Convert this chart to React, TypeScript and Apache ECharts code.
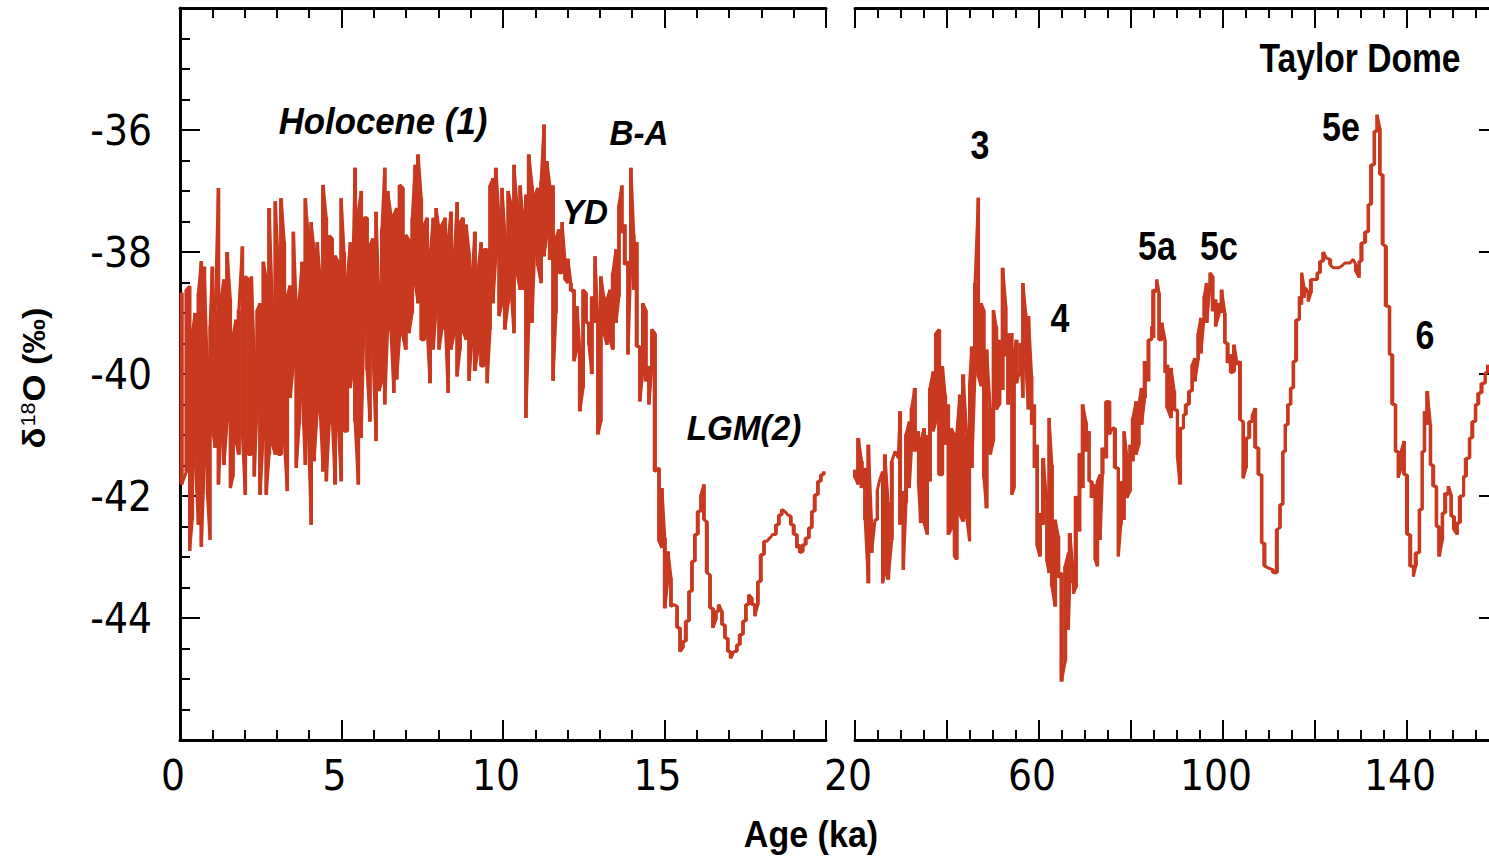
import React, { useEffect, useRef } from "react";
import * as echarts from "echarts";

// ---------- Data (ages in ka, δ18O in ‰; each column: high / low envelope) ----------
const holoceneAges = [0.05,0.2,0.3,0.38,0.47,0.57,0.66,0.75,0.85,0.93,1.0,1.09,1.19,1.28,1.36,1.46,1.56,1.64,1.73,1.82,1.93,2.02,2.11,2.21,2.3,2.39,2.48,2.58,2.67,2.76,2.86,2.95,3.04,3.13,3.23,3.32,3.41,3.51,3.6,3.69,3.78,3.88,3.97,4.06,4.15,4.25,4.34,4.43,4.53,4.62,4.71,4.8,4.9,4.99,5.08,5.18,5.27,5.34,5.42,5.52,5.61,5.7,5.79,5.88,5.97,6.07,6.16,6.25,6.34,6.43,6.53,6.62,6.71,6.8,6.9,6.99];
const holoceneHigh = [-38.67,-38.62,-38.56,-39.33,-39.0,-38.67,-38.15,-38.24,-40.0,-39.22,-38.24,-38.95,-36.95,-38.73,-38.45,-38.0,-38.78,-39.38,-39.11,-38.95,-37.91,-38.4,-38.44,-38.4,-39.71,-38.95,-38.84,-38.16,-38.44,-37.28,-38.86,-37.17,-38.16,-37.12,-37.84,-38.72,-38.55,-37.67,-38.89,-38.78,-38.16,-37.12,-37.73,-37.51,-37.95,-37.84,-38.44,-36.9,-37.44,-37.73,-37.78,-38.06,-38.16,-37.12,-38.0,-38.44,-37.84,-38.55,-36.62,-37.34,-37.0,-37.44,-37.44,-37.89,-37.78,-37.34,-38.78,-37.62,-36.62,-37.0,-37.39,-37.39,-37.28,-36.9,-36.95,-37.72];
const holoceneLow = [-41.81,-41.6,-42.9,-42.39,-41.43,-42.47,-42.83,-41.54,-41.98,-42.72,-40.89,-41.21,-41.81,-40.83,-41.49,-40.78,-41.87,-41.68,-41.1,-41.32,-40.99,-41.98,-41.32,-41.32,-41.68,-40.5,-41.98,-40.99,-41.98,-41.32,-41.16,-41.32,-41.32,-41.32,-41.1,-41.92,-40.39,-39.87,-41.54,-40.83,-40.28,-41.49,-40.89,-42.47,-41.43,-40.61,-40.61,-41.6,-41.76,-40.83,-40.67,-41.81,-40.83,-41.76,-40.94,-40.94,-40.23,-39.96,-40.78,-41.81,-41.05,-39.14,-39.93,-40.78,-39.6,-41.1,-40.28,-40.12,-40.5,-39.25,-39.3,-40.31,-40.09,-39.38,-39.38,-39.6];

const lateAges = [7.09,7.19,7.28,7.37,7.47,7.56,7.65,7.74,7.84,7.93,8.02,8.11,8.21,8.3,8.39,8.49,8.58,8.67,8.76,8.86,8.95,9.04,9.13,9.23,9.32,9.41,9.51,9.6,9.69,9.78,9.88,9.97,10.06,10.16,10.25,10.34,10.43,10.53,10.62,10.71,10.8,10.9,10.99,11.08,11.18,11.27,11.36,11.45,11.55,11.64,11.73,11.83,11.92,12.01,12.1,12.2,12.29,12.38,12.48,12.57,12.66,12.75,12.85,12.94,13.03,13.12,13.22,13.31,13.4,13.5,13.59,13.68,13.77,13.87,13.96,14.05,14.14,14.24,14.33,14.42,14.52,14.61,14.7];
const lateHigh = [-37.8,-37.44,-36.57,-36.4,-37.11,-37.55,-37.44,-38.07,-37.44,-37.28,-37.63,-37.55,-37.44,-37.8,-37.34,-38.07,-37.18,-37.51,-37.44,-37.55,-38.0,-38.4,-37.67,-38.29,-37.84,-37.96,-37.96,-36.91,-36.79,-36.62,-37.44,-36.95,-37.72,-37.0,-37.22,-36.57,-37.22,-36.91,-37.44,-37.06,-36.4,-36.91,-37.06,-36.95,-36.84,-35.91,-36.51,-36.91,-36.91,-37.77,-37.63,-37.51,-38.15,-38.11,-38.51,-38.62,-38.89,-39.6,-38.62,-38.67,-39.16,-38.73,-38.07,-39.16,-38.4,-38.73,-38.78,-38.62,-38.34,-37.96,-37.23,-36.91,-37.55,-38.15,-36.62,-37.72,-37.84,-39.55,-38.84,-38.95,-39.87,-39.27,-39.33];
const lateLow = [-39.33,-39.0,-38.51,-38.84,-39.44,-39.44,-39.25,-40.15,-39.6,-38.95,-39.6,-39.27,-39.11,-40.31,-39.6,-39.33,-40.04,-39.6,-39.3,-39.44,-40.11,-39.44,-39.95,-39.6,-39.87,-39.87,-40.15,-39.27,-38.84,-38.07,-39.05,-38.84,-39.27,-38.84,-38.64,-39.33,-38.34,-38.62,-38.62,-40.72,-39.16,-39.16,-37.82,-38.23,-38.51,-38.07,-37.72,-38.13,-40.11,-39.0,-38.34,-38.34,-38.45,-38.51,-38.64,-39.79,-39.6,-40.61,-40.23,-39.16,-39.52,-40.0,-39.16,-40.99,-40.78,-39.33,-39.52,-39.44,-39.6,-39.16,-38.73,-37.69,-38.21,-39.68,-38.15,-38.62,-39.55,-40.45,-39.95,-40.12,-40.5,-39.87,-41.6];

const lgmAges = [14.83,14.92,15.01,15.11,15.2,15.29,15.39,15.48,15.57,15.66,15.76,15.85,15.94,16.03,16.13,16.22,16.31,16.41,16.5,16.59,16.68,16.78,16.87,16.96,17.05,17.15,17.24,17.33,17.43,17.52,17.61,17.7,17.8,17.89,17.98,18.08,18.17,18.26,18.35,18.45,18.54,18.63,18.72,18.82,18.91,19.0,19.1,19.19,19.28,19.37,19.47,19.56,19.65,19.75,19.84,19.93];
const lgmHigh = [-41.54,-41.87,-42.69,-42.91,-43.34,-43.78,-43.81,-44.16,-44.38,-44.05,-43.56,-43.07,-42.63,-42.25,-41.98,-41.81,-42.42,-43.29,-43.84,-43.89,-43.78,-43.89,-44.11,-44.33,-44.55,-44.55,-44.44,-44.27,-44.05,-43.78,-43.62,-43.67,-43.78,-43.4,-42.96,-42.74,-42.74,-42.69,-42.63,-42.47,-42.31,-42.22,-42.25,-42.31,-42.33,-42.47,-42.63,-42.8,-42.8,-42.69,-42.52,-42.25,-41.98,-41.76,-41.65,-41.6];
const lgmLow = [-42.74,-42.85,-43.84,-43.34,-43.81,-43.78,-44.16,-44.55,-44.49,-44.38,-44.05,-43.56,-43.07,-42.63,-42.25,-42.39,-43.26,-43.84,-44.16,-44.03,-43.89,-44.11,-44.33,-44.55,-44.66,-44.55,-44.55,-44.44,-44.27,-44.05,-43.78,-43.78,-43.97,-43.78,-43.4,-42.96,-42.74,-42.69,-42.63,-42.63,-42.47,-42.31,-42.25,-42.31,-42.47,-42.63,-42.85,-42.93,-42.91,-42.8,-42.69,-42.52,-42.25,-41.98,-41.76,-41.65];

const stage3Ages = [20.0,20.7,21.45,22.2,22.9,23.6,24.35,24.86,25.4,26.0,26.5,27.2,28.0,28.7,29.4,29.8,30.5,31.1,31.8,32.3,33.0,33.8,34.3,35.0,35.7,36.3,37.0,37.6,38.3,39.0,39.6,40.3,40.9,41.6,42.1,42.8,43.5,44.3,44.9,45.4,46.1,46.8,47.4,48.0,48.6,49.4,50.1,50.7,51.4,52.1,52.8,53.3,54.1,54.6,55.1,55.9,56.5,57.1,57.7,58.4,59.0,59.6,60.2,60.9,61.7,62.2,62.8,63.5,64.2,64.9,65.7,66.4,66.7];
const stage3High = [-41.57,-41.05,-41.43,-41.54,-41.16,-42.44,-42.39,-41.9,-41.73,-41.6,-41.32,-42.11,-41.43,-41.27,-41.38,-40.61,-41.92,-40.99,-40.78,-40.56,-40.23,-40.94,-41.1,-40.89,-41.0,-40.23,-39.96,-39.33,-39.27,-39.87,-40.34,-40.5,-40.89,-41.0,-41.0,-40.34,-40.01,-41.0,-40.17,-39.55,-38.51,-37.11,-38.84,-38.95,-39.6,-40.56,-38.95,-39.22,-39.44,-38.26,-38.89,-39.33,-39.33,-39.68,-39.44,-39.49,-38.51,-39.0,-39.05,-40.04,-40.5,-41.16,-42.28,-41.38,-42.11,-40.72,-41.49,-42.39,-42.66,-43.26,-43.15,-42.93,-42.61];
const stage3Low = [-41.7,-41.81,-41.87,-42.39,-43.43,-42.93,-42.39,-42.39,-41.73,-43.43,-43.26,-43.37,-42.72,-41.27,-41.38,-42.47,-43.21,-42.11,-41.87,-41.21,-41.27,-41.81,-42.44,-42.44,-42.63,-41.76,-40.94,-40.78,-41.65,-41.65,-41.16,-42.63,-42.55,-42.99,-43.04,-42.31,-42.42,-42.36,-42.74,-41.54,-39.98,-40.04,-40.2,-41.7,-42.2,-41.32,-41.1,-40.58,-40.5,-40.26,-39.71,-40.5,-41.98,-41.87,-40.15,-39.93,-40.39,-39.82,-40.58,-40.83,-41.54,-42.82,-42.99,-42.47,-43.07,-43.26,-43.48,-43.81,-43.34,-45.04,-44.71,-44.19,-43.43];

const stage5Ages = [67.5,68.0,68.8,69.5,70.2,70.9,71.45,72.2,72.7,73.3,73.8,74.6,75.3,76.0,76.5,77.25,77.8,78.5,79.06,79.8,80.4,81.1,81.7,82.3,83.0,83.8,84.5,84.85,85.6,86.1,86.7,87.4,87.9,88.7,89.4,90.1,90.65,91.4,91.9,92.6,93.3,93.9,94.6,95.2,95.9,96.45,97.2,97.75,98.4,99.0,99.7,100.4,101.0,101.7,102.4,103.1,103.7,104.4,105.0,105.7,106.4,107.0,107.7,108.4,109.0,109.85,110.9,111.7];
const stage5High = [-43.29,-42.0,-41.3,-40.5,-40.78,-40.94,-41.76,-41.81,-41.76,-41.65,-41.21,-40.45,-40.45,-40.89,-40.89,-41.54,-41.76,-40.94,-41.32,-41.16,-40.72,-40.45,-40.5,-40.23,-39.79,-39.44,-39.22,-38.62,-38.45,-38.67,-39.16,-39.44,-39.85,-39.9,-40.28,-40.59,-40.89,-40.67,-40.5,-40.28,-39.85,-39.74,-39.33,-39.08,-38.73,-38.51,-38.34,-38.4,-38.78,-38.84,-38.62,-39.0,-39.49,-39.68,-39.52,-39.85,-39.79,-40.78,-41.05,-40.78,-40.67,-40.56,-41.21,-41.65,-42.77,-43.18,-43.21,-42.55];
const stage5Low = [-43.6,-43.5,-42.58,-41.87,-41.27,-41.76,-42.03,-43.04,-43.15,-42.72,-41.65,-41.38,-40.99,-40.89,-41.54,-42.99,-42.47,-42.39,-42.03,-41.92,-41.43,-41.32,-41.16,-40.83,-40.39,-40.12,-39.44,-39.41,-38.65,-39.44,-39.44,-39.98,-40.56,-40.72,-40.59,-41.38,-41.81,-40.89,-40.67,-40.5,-40.28,-40.12,-39.77,-39.66,-39.06,-39.16,-38.54,-38.97,-39.22,-39.06,-39.0,-39.49,-39.82,-39.98,-39.96,-39.85,-40.75,-41.71,-41.54,-41.05,-40.78,-41.21,-41.65,-42.77,-43.15,-43.18,-43.26,-43.26];

const stage6Ages = [112.4,113.0,113.55,114.1,114.7,115.3,115.9,116.6,117.1,117.6,118.0,118.55,119.1,119.8,120.5,121.1,121.8,122.5,123.3,124.0,125.1,125.8,126.5,127.6,128.3,128.9,129.6,130.1,130.9,131.6,132.2,132.9,133.5,134.1,134.7,135.4,136.2,136.8,137.5,138.1,138.6,139.35,140.0,140.7,141.4,141.9,142.7,143.3,143.8,144.4,145.1,145.7,146.4,147.0,147.7,148.3,149.0,149.6,150.2,150.9,151.5,152.3,152.8,153.6,154.2,154.9,155.5,156.2,157.0,157.5];
const stage6High = [-42.14,-41.27,-40.83,-40.5,-40.23,-39.79,-39.11,-38.73,-38.34,-38.56,-38.59,-38.67,-38.45,-38.45,-38.34,-38.15,-38.0,-38.1,-38.12,-38.26,-38.26,-38.23,-38.18,-38.18,-38.12,-38.21,-38.15,-37.85,-37.67,-37.22,-36.57,-36.02,-35.75,-35.97,-36.73,-37.9,-38.89,-39.68,-40.5,-41.27,-41.3,-41.1,-41.65,-42.63,-43.15,-42.93,-42.22,-41.27,-40.61,-40.28,-40.83,-41.49,-41.84,-42.5,-42.28,-41.95,-41.84,-41.98,-42.33,-42.44,-42.0,-41.68,-41.38,-41.05,-40.78,-40.5,-40.31,-40.15,-39.98,-39.85];
const stage6Low = [-42.52,-42.14,-41.27,-40.83,-40.5,-40.23,-39.79,-39.11,-38.86,-38.75,-38.59,-38.81,-38.67,-38.45,-38.45,-38.34,-38.15,-38.1,-38.21,-38.26,-38.26,-38.23,-38.18,-38.18,-38.12,-38.32,-38.42,-38.15,-37.85,-37.67,-37.22,-36.57,-36.02,-36.73,-37.88,-38.89,-39.68,-40.5,-41.27,-41.7,-41.57,-41.65,-42.63,-43.15,-43.32,-43.15,-42.93,-42.22,-41.27,-40.83,-41.49,-41.84,-42.5,-42.99,-42.72,-42.28,-41.98,-42.33,-42.55,-42.63,-42.44,-42.0,-41.68,-41.38,-41.05,-40.78,-40.5,-40.31,-40.15,-39.98];

const leftTickLabels = [0, 5, 10, 15];
const rightTickLabels = [20, 60, 100, 140];
const yTickLabels = [-36, -38, -40, -42, -44];

const annotations = [
  { text: "Holocene (1)", italic: true },
  { text: "B-A", italic: true },
  { text: "YD", italic: true },
  { text: "LGM(2)", italic: true },
  { text: "3", italic: false },
  { text: "4", italic: false },
  { text: "5a", italic: false },
  { text: "5c", italic: false },
  { text: "5e", italic: false },
  { text: "6", italic: false },
  { text: "Taylor Dome", italic: false },
];
// placement of the annotations: x, y, font size, horizontal squeeze
const annotationPos = [
  [383, 122, 37, 0.94], [639, 133, 35, 0.95], [585, 212, 35, 0.95], [744, 428, 35, 0.95],
  [980, 145, 40, 0.85], [1060, 318, 40, 0.85], [1157, 246, 40, 0.85], [1219, 246, 40, 0.85],
  [1341, 127, 40, 0.85], [1425, 335, 40, 0.85], [1360, 58, 41, 0.82],
];

// ---------- helpers ----------
function trace(ages: number[], hi: number[], lo: number[]) {
  const pts: number[][] = [];
  let prev: number | null = null;
  const n = Math.min(ages.length, hi.length, lo.length);
  for (let i = 0; i < n; i++) {
    const a = ages[i], h = hi[i], l = lo[i];
    let first = h, second = l;
    if (prev !== null && Math.abs(prev - l) < Math.abs(prev - h)) { first = l; second = h; }
    pts.push([a, first]);
    if (second !== first) pts.push([a, second]);
    prev = second;
  }
  return pts;
}

// columns [age, high, low, gap-to-next] for the filled envelope
function columns(ages: number[], hi: number[], lo: number[]) {
  const n = Math.min(ages.length, hi.length, lo.length);
  const out: number[][] = [];
  for (let i = 0; i < n; i++) {
    const gap = i < n - 1 ? ages[i + 1] - ages[i] : (i > 0 ? ages[i] - ages[i - 1] : 0.1);
    out.push([ages[i], hi[i], lo[i], gap]);
  }
  return out;
}

const TICKFONT = '"DejaVu Sans Condensed", "Liberation Sans", sans-serif';
const SANS = '"Liberation Sans", Arial, Helvetica, sans-serif';
const RED = "#C8391F";
const BLACK = "#000";

export default function App() {
  const ref = useRef<HTMLDivElement>(null);
  useEffect(() => {
    if (!ref.current) return;
    const chart = echarts.init(ref.current, undefined, { renderer: "svg" });

    const lA = [...holoceneAges, ...lateAges, ...lgmAges];
    const lH = [...holoceneHigh, ...lateHigh, ...lgmHigh];
    const lL = [...holoceneLow, ...lateLow, ...lgmLow];
    const rA = [...stage3Ages, ...stage5Ages, ...stage6Ages];
    const rH = [...stage3High, ...stage5High, ...stage6High];
    const rL = [...stage3Low, ...stage5Low, ...stage6Low];

    const renderColumn = (params: any, api: any) => {
      const a = api.value(0), h = api.value(1), l = api.value(2), g = api.value(3);
      const p1 = api.coord([a, h]);
      const p2 = api.coord([a, l]);
      const w = Math.min(Math.max(api.size([g, 0])[0] + 0.8, 3), 4.2);
      const hgt = p2[1] - p1[1];
      if (hgt < 1) return null;
      return {
        type: "rect",
        shape: { x: p1[0] - w / 2, y: p1[1], width: w, height: hgt },
        style: { fill: RED },
      };
    };

    const axisLine = { show: true, onZero: false, lineStyle: { color: BLACK, width: 3 } };
    const tick = { show: true, inside: true, length: 20, lineStyle: { color: BLACK, width: 2 } };
    const minor = (n: number) => ({ show: true, splitNumber: n, length: 10, lineStyle: { color: BLACK, width: 2 } });
    const labelStyle = { color: BLACK, fontFamily: TICKFONT, fontSize: 42, fontWeight: "normal" as const };

    const xBase = (grid: number, min: number, max: number, interval: number, split: number) => ({
      type: "value" as const, gridIndex: grid, min, max, interval,
      axisLine, axisTick: tick, minorTick: minor(split),
      splitLine: { show: false }, minorSplitLine: { show: false },
    });

    const option: any = {
      animation: false,
      backgroundColor: "#fff",
      grid: [
        { left: 180, top: 8, width: 646, height: 732, containLabel: false, outerBoundsMode: "none" },
        { left: 855, top: 8, width: 644, height: 732, containLabel: false, outerBoundsMode: "none" },
      ],
      xAxis: [
        {
          ...xBase(0, 0, 20, 5, 5), position: "bottom",
          axisLabel: {
            ...labelStyle, margin: 14, padding: [0, 14, 0, 0],
            formatter: (v: number) => (leftTickLabels.includes(v) ? String(v) : ""),
          },
        },
        { ...xBase(0, 0, 20, 5, 5), position: "top", axisLabel: { show: false } },
        {
          ...xBase(1, 20, 160, 20, 4), position: "bottom",
          axisLabel: {
            ...labelStyle, margin: 14, padding: [0, 14, 0, 0],
            formatter: (v: number) => (rightTickLabels.includes(v) ? String(v) : ""),
          },
        },
        { ...xBase(1, 20, 160, 20, 4), position: "top", axisLabel: { show: false } },
      ],
      yAxis: [
        {
          type: "value", gridIndex: 0, min: -46, max: -34, interval: 2, position: "left",
          axisLine, axisTick: tick, minorTick: minor(4),
          splitLine: { show: false }, minorSplitLine: { show: false },
          axisLabel: {
            ...labelStyle, margin: 28,
            formatter: (v: number) => (yTickLabels.includes(v) ? String(v) : ""),
          },
        },
        {
          type: "value", gridIndex: 1, min: -46, max: -34, interval: 2, position: "right",
          axisLine, axisTick: tick, minorTick: { show: false },
          splitLine: { show: false }, axisLabel: { show: false },
        },
      ],
      series: [
        {
          type: "line", xAxisIndex: 0, yAxisIndex: 0, data: trace(lA, lH, lL),
          showSymbol: false, symbol: "none", silent: true, z: 2,
          lineStyle: { color: RED, width: 3 },
        },
        {
          type: "custom", xAxisIndex: 0, yAxisIndex: 0, silent: true, z: 3,
          data: columns(lA, lH, lL), renderItem: renderColumn,
          encode: { x: 0, y: [1, 2] },
        },
        {
          type: "line", xAxisIndex: 2, yAxisIndex: 1, data: trace(rA, rH, rL),
          showSymbol: false, symbol: "none", silent: true, z: 2,
          lineStyle: { color: RED, width: 3 },
        },
        {
          type: "custom", xAxisIndex: 2, yAxisIndex: 1, silent: true, z: 3,
          data: columns(rA, rH, rL), renderItem: renderColumn,
          encode: { x: 0, y: [1, 2] },
        },
      ],
      graphic: [
        ...annotations.map((a, i) => ({
          type: "text",
          x: annotationPos[i][0], y: annotationPos[i][1],
          scaleX: annotationPos[i][3],
          style: {
            text: a.text,
            fill: BLACK,
            font: `${a.italic ? "italic " : ""}bold ${annotationPos[i][2]}px ${SANS}`,
            align: "center", verticalAlign: "middle",
          },
          z: 10,
        })),
        {
          type: "text", x: 811, y: 835, scaleX: 0.92,
          style: { text: "Age (ka)", fill: BLACK, font: `bold 37px ${SANS}`, align: "center", verticalAlign: "middle" },
        },
        {
          type: "text", x: 34, y: 378, rotation: Math.PI / 2, scaleX: 1.08,
          style: {
            text: "{b|δ}{s|18}{b|O (‰)}",
            align: "center", verticalAlign: "middle",
            rich: {
              b: { fill: BLACK, fontFamily: SANS, fontWeight: "bold", fontSize: 32 },
              s: { fill: BLACK, fontFamily: SANS, fontWeight: "normal", fontSize: 20, verticalAlign: "top", padding: [0, 1, 12, 1] },
            },
          },
        },
      ],
    };
    chart.setOption(option);
    return () => chart.dispose();
  }, []);

  return (
    <div
      ref={ref}
      style={{ position: "fixed", left: 0, top: 0, width: 1489, height: 859, background: "#fff" }}
    />
  );
}
